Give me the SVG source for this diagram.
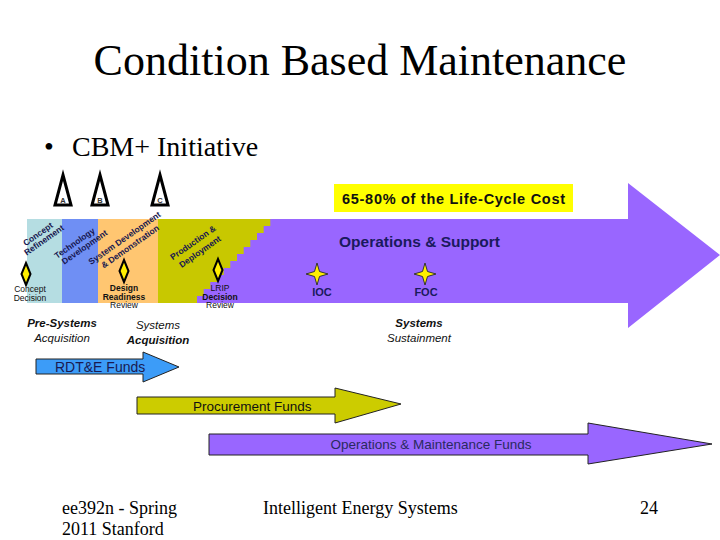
<svg xmlns="http://www.w3.org/2000/svg" width="720" height="540" viewBox="0 0 720 540">
<style>
.serif{font-family:"Liberation Serif","Times New Roman",serif;fill:#000}
.sans{font-family:"Liberation Sans",Arial,sans-serif}
.phase{font-family:"Liberation Sans",Arial,sans-serif;font-weight:bold;font-size:8.5px;fill:#16164f;text-anchor:middle}
.ms{font-family:"Liberation Sans",Arial,sans-serif;font-size:8.5px;fill:#111;text-anchor:middle}
.era{font-family:"Liberation Sans",Arial,sans-serif;font-style:italic;font-size:11.5px;fill:#111;text-anchor:middle}
.fund{stroke:#222;stroke-width:1}
.tri{fill:#fff;stroke:#000;stroke-width:3;stroke-linejoin:miter}
.tlet{font-family:"Liberation Sans",Arial,sans-serif;font-weight:bold;font-size:7.5px;fill:#333;text-anchor:middle}
</style>
<defs>
<path id="diamond" d="M0,-11 L4.5,0 L0,11 L-4.5,0 Z" fill="#ffee00" stroke="#000" stroke-width="2"/>
<path id="star" d="M0,-11 L2.5,-2.5 L11,0 L2.5,2.5 L0,11 L-2.5,2.5 L-11,0 L-2.5,-2.5 Z" fill="#ffee00" stroke="#333" stroke-width="1"/>
</defs>
<rect width="720" height="540" fill="#fff"/>

<g id="title">
<text class="serif" x="360" y="75" font-size="44" text-anchor="middle" font-family="'Liberation Serif', serif">Condition Based Maintenance</text>
</g>
<g id="bullet">
<text class="serif" x="44" y="156" font-size="28">•</text>
<text class="serif" x="72" y="156" font-size="28">CBM+ Initiative</text>
</g>

<g id="phase-band">
<rect x="27" y="219" width="35" height="84" fill="#b5dde2"/>
<rect x="62" y="219" width="36" height="84" fill="#6f8ff4"/>
<rect x="98" y="219" width="60" height="84" fill="#ffc671"/>
<rect x="158" y="219" width="122" height="84" fill="#c8c800"/>
</g>

<g id="os-arrow">
<path d="M277,219 L628,219 L628,183 L720,255 L628,328 L628,303 L197,303 L197,296 L203.7,296 L203.7,289 L210.3,289 L210.3,282 L217,282 L217,275 L223.7,275 L223.7,268 L230.3,268 L230.3,261 L237,261 L237,254 L243.7,254 L243.7,247 L250.3,247 L250.3,240 L257,240 L257,233 L263.7,233 L263.7,226 L270.3,226 L270.3,219 Z" fill="#9966ff"/>
<text class="sans" x="339" y="247" font-size="15.5" font-weight="bold" fill="#1a1a5c">Operations &amp; Support</text>
</g>

<g id="cost-box">
<rect x="334" y="184" width="239" height="28" fill="#ffff00"/>
<text class="sans" x="342" y="204" font-size="14.5" font-weight="bold" fill="#111" textLength="223" lengthAdjust="spacing">65-80% of the Life-Cycle Cost</text>
</g>

<g id="phase-labels">
<text class="phase" transform="translate(38,234) rotate(-35)" y="3">Concept</text>
<text class="phase" transform="translate(44,240) rotate(-35)" y="3">Refinement</text>
<text class="phase" transform="translate(74.5,243) rotate(-35)" y="3">Technology</text>
<text class="phase" transform="translate(84.5,247) rotate(-35)" y="3">Development</text>
<text class="phase" transform="translate(124.5,238) rotate(-35)" y="3">System Development</text>
<text class="phase" transform="translate(130,246.5) rotate(-35)" y="3">&amp; Demonstration</text>
<text class="phase" transform="translate(193,242.5) rotate(-35)" y="3">Production &amp;</text>
<text class="phase" transform="translate(200,251.5) rotate(-35)" y="3">Deployment</text>
</g>

<g id="milestone-A">
<path class="tri" d="M63,175 L71,205 L55,205 Z"/>
<text class="tlet" x="63" y="203">A</text>
</g>
<g id="milestone-B">
<path class="tri" d="M100,175 L108,205 L92,205 Z"/>
<text class="tlet" x="100" y="203">B</text>
</g>
<g id="milestone-C">
<path class="tri" d="M160,175 L168,205 L152,205 Z"/>
<text class="tlet" x="160" y="203">C</text>
</g>

<g id="concept-decision">
<use href="#diamond" x="26" y="274"/>
<text class="ms" x="30" y="292">Concept</text>
<text class="ms" x="30" y="300.5">Decision</text>
</g>
<g id="design-readiness-review">
<use href="#diamond" x="124" y="271"/>
<text class="ms" x="124" y="291" font-weight="bold">Design</text>
<text class="ms" x="124" y="299.5" font-weight="bold">Readiness</text>
<text class="ms" x="124" y="308">Review</text>
</g>
<g id="lrip-decision-review">
<use href="#diamond" x="218" y="270"/>
<text class="ms" x="220" y="290.5">LRIP</text>
<text class="ms" x="220" y="299.5" font-weight="bold">Decision</text>
<text class="ms" x="220" y="308">Review</text>
</g>

<g id="ioc">
<use href="#star" x="317" y="274"/>
<text class="sans" x="322" y="296" font-size="11" font-weight="bold" fill="#1a1a5c" text-anchor="middle">IOC</text>
</g>
<g id="foc">
<use href="#star" x="425" y="274"/>
<text class="sans" x="426" y="296" font-size="11" font-weight="bold" fill="#1a1a5c" text-anchor="middle">FOC</text>
</g>

<g id="eras">
<text class="era" x="62" y="327" font-weight="bold">Pre-Systems</text>
<text class="era" x="62" y="342">Acquisition</text>
<text class="era" x="158" y="329">Systems</text>
<text class="era" x="158" y="343.5" font-weight="bold">Acquisition</text>
<text class="era" x="419" y="327" font-weight="bold">Systems</text>
<text class="era" x="419" y="341.5">Sustainment</text>
</g>

<g id="connectors"></g>

<g id="rdte-funds">
<path class="fund" d="M36,359 L143,359 L143,352 L179,367 L143,382 L143,374 L36,374 Z" fill="#3c9cf8"/>
<text class="sans" x="55" y="372" font-size="14" fill="#1a1a50">RDT&amp;E Funds</text>
</g>
<g id="procurement-funds">
<path class="fund" d="M137,397 L335,397 L335,388 L401,404 L335,423 L335,414 L137,414 Z" fill="#cccc00"/>
<text class="sans" x="193" y="411" font-size="13.5" fill="#111">Procurement Funds</text>
</g>
<g id="om-funds">
<path class="fund" d="M209,434 L588,434 L588,423 L712,444 L588,464 L588,455 L209,455 Z" fill="#9966ff"/>
<text class="sans" x="431" y="449" font-size="13.5" fill="#2a2a60" text-anchor="middle">Operations &amp; Maintenance Funds</text>
</g>

<g id="footer">
<text class="serif" x="62" y="514" font-size="18">ee392n - Spring</text>
<text class="serif" x="62" y="535" font-size="18">2011 Stanford</text>
<text class="serif" x="263" y="514" font-size="18">Intelligent Energy Systems</text>
<text class="serif" x="640" y="514" font-size="18">24</text>
</g>
</svg>
